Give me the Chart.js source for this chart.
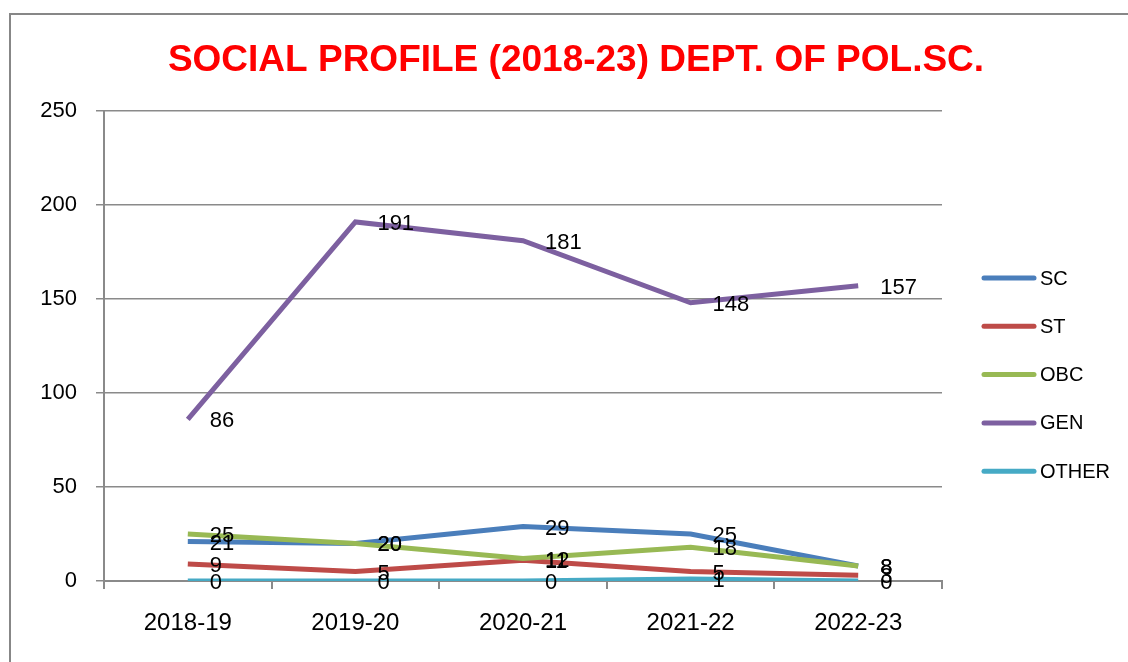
<!DOCTYPE html>
<html>
<head>
<meta charset="utf-8">
<script src="https://cdn.jsdelivr.net/npm/chart.js@4.4.0/dist/chart.umd.min.js"></script>
<style>
  html, body { margin: 0; padding: 0; background: #fff; }
  #wrap { width: 1128px; height: 662px; position: relative; }
</style>
</head>
<body>
<div id="wrap"><canvas id="c"></canvas></div>
<script>
const chartTitle = "SOCIAL PROFILE (2018-23) DEPT. OF POL.SC.";
const categories = ["2018-19", "2019-20", "2020-21", "2021-22", "2022-23"];
const seriesNames = ["SC", "ST", "OBC", "GEN", "OTHER"];
const scValues = [21, 20, 29, 25, 8];
const stValues = [9, 5, 11, 5, 3];
const obcValues = [25, 20, 12, 18, 8];
const genValues = [86, 191, 181, 148, 157];
const otherValues = [0, 0, 0, 1, 0];
const yTicks = [0, 50, 100, 150, 200, 250];

const seriesColors = ["#4A7EBB", "#BE4B48", "#98B954", "#7D60A0", "#46AAC5"];
const seriesValues = [scValues, stValues, obcValues, genValues, otherValues];
const FONT = "'Liberation Sans', Arial, sans-serif";
const GRID = "#8a8a8a";

const datasets = seriesNames.map((name, i) => ({
  label: name,
  data: seriesValues[i],
  borderColor: seriesColors[i],
  backgroundColor: seriesColors[i],
  borderWidth: 5,
  pointRadius: 0,
  tension: 0,
  fill: false,
  order: seriesNames.length - i
}));

const decorPlugin = {
  id: 'decor',
  beforeDraw(chart) {
    const ctx = chart.ctx;
    ctx.save();
    ctx.fillStyle = '#fff';
    ctx.fillRect(0, 0, chart.width, chart.height);
    ctx.strokeStyle = '#878787';
    ctx.lineWidth = 2;
    ctx.strokeRect(10, 14, 1300, 800);
    // title
    ctx.fillStyle = '#FF0000';
    ctx.font = "bold 37px " + FONT;
    ctx.textAlign = 'center';
    ctx.textBaseline = 'alphabetic';
    ctx.fillText(chartTitle, 576, 71);
    ctx.restore();
  },
  afterDatasetsDraw(chart) {
    const ctx = chart.ctx;
    ctx.save();
    // data labels
    ctx.fillStyle = '#000';
    ctx.font = "22px " + FONT;
    ctx.textAlign = 'left';
    ctx.textBaseline = 'middle';
    chart.data.datasets.forEach((ds, i) => {
      const meta = chart.getDatasetMeta(i);
      meta.data.forEach((pt, j) => {
        ctx.fillText(String(ds.data[j]), pt.x + 22, pt.y + 2);
      });
    });
    // legend
    ctx.font = "20px " + FONT;
    ctx.lineCap = 'round';
    chart.data.datasets.forEach((ds, i) => {
      const y = 278 + i * 48.3;
      ctx.strokeStyle = ds.borderColor;
      ctx.lineWidth = 5;
      ctx.beginPath();
      ctx.moveTo(984, y);
      ctx.lineTo(1034, y);
      ctx.stroke();
      ctx.fillStyle = '#000';
      ctx.fillText(ds.label, 1040, y + 1);
    });
    ctx.restore();
  }
};

new Chart(document.getElementById('c'), {
  type: 'line',
  data: { labels: categories, datasets },
  options: {
    responsive: true,
    maintainAspectRatio: false,
    animation: false,
    layout: { padding: { left: 0, right: 186, top: 111, bottom: 0 } },
    plugins: {
      legend: { display: false },
      title: { display: false },
      tooltip: { enabled: false }
    },
    scales: {
      x: {
        type: 'category',
        offset: true,
        afterFit(scale) { scale.height = 81; },
        grid: {
          offset: true,
          drawOnChartArea: false,
          drawTicks: true,
          tickLength: 8,
          color: GRID,
          lineWidth: 2
        },
        border: { display: true, color: GRID, width: 2 },
        ticks: { color: '#000', font: { family: FONT, size: 24 }, padding: 20, maxRotation: 0 }
      },
      y: {
        min: 0,
        max: 250,
        afterFit(scale) { scale.width = 104; },
        afterBuildTicks(scale) { scale.ticks = yTicks.map(v => ({ value: v })); },
        grid: { color: GRID, lineWidth: 1.5, tickLength: 8, drawTicks: true },
        border: { display: true, color: GRID, width: 2 },
        ticks: { color: '#000', font: { family: FONT, size: 22 }, padding: 19 }
      }
    }
  },
  plugins: [decorPlugin]
});
</script>
</body>
</html>
